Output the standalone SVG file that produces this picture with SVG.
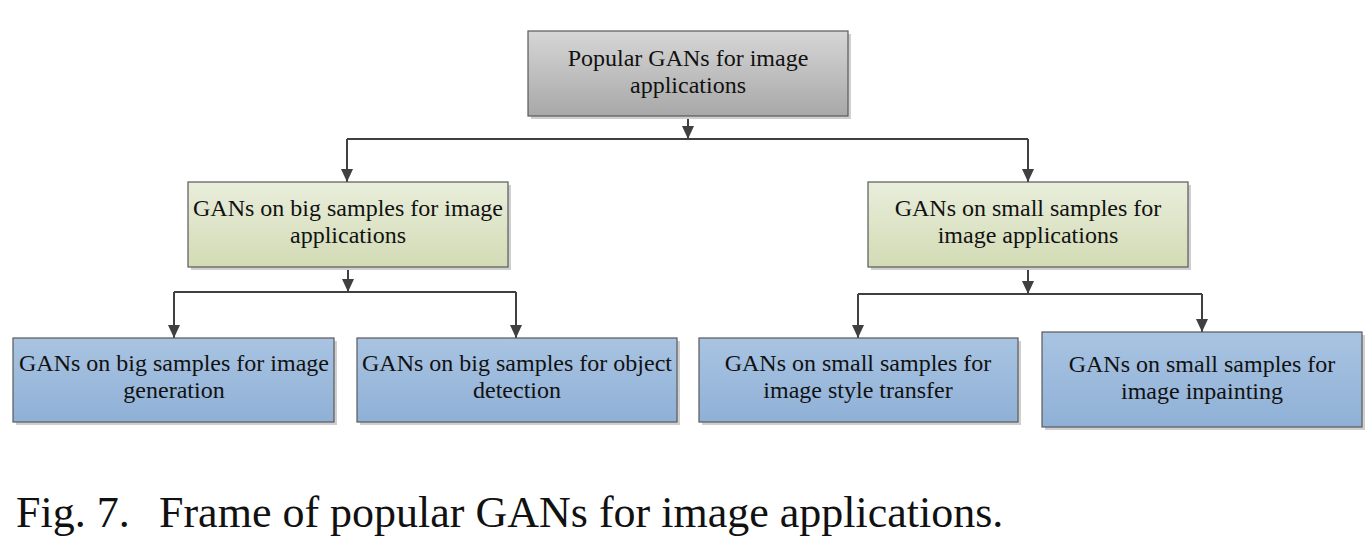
<svg xmlns="http://www.w3.org/2000/svg" width="1369" height="539" viewBox="0 0 1369 539">
<style>
  .box { stroke: #595959; stroke-width: 1.2; }
  .shadow { fill: #cfcfcf; }
  .conn { fill: none; stroke: #404040; stroke-width: 2; }
</style>
<defs>
  <linearGradient id="gGrey" x1="0" y1="0" x2="0" y2="1">
    <stop offset="0" stop-color="#d6d6d6"/>
    <stop offset="1" stop-color="#a8a8a8"/>
  </linearGradient>
  <linearGradient id="gGreen" x1="0" y1="0" x2="0" y2="1">
    <stop offset="0" stop-color="#e9eedb"/>
    <stop offset="1" stop-color="#d2dbb5"/>
  </linearGradient>
  <linearGradient id="gBlue" x1="0" y1="0" x2="0" y2="1">
    <stop offset="0" stop-color="#a9c4e2"/>
    <stop offset="1" stop-color="#8fb0d6"/>
  </linearGradient>
  <marker id="arr" markerUnits="userSpaceOnUse" markerWidth="13" markerHeight="13" viewBox="0 0 13 12" refX="13" refY="6" orient="auto">
    <path d="M0,0 L13,6 L0,12 z" fill="#404040"/>
  </marker>
</defs>
<rect width="1369" height="539" fill="#ffffff"/>

<g id="connectors">
  <path class="conn" d="M688,116 V139" marker-end="url(#arr)"/>
  <path class="conn" d="M347,139 H1028"/>
  <path class="conn" d="M347,139 V182" marker-end="url(#arr)"/>
  <path class="conn" d="M1028,139 V182" marker-end="url(#arr)"/>
  <path class="conn" d="M348,267 V292" marker-end="url(#arr)"/>
  <path class="conn" d="M174,292 H516"/>
  <path class="conn" d="M174,292 V338" marker-end="url(#arr)"/>
  <path class="conn" d="M516,292 V338" marker-end="url(#arr)"/>
  <path class="conn" d="M1028,267 V294" marker-end="url(#arr)"/>
  <path class="conn" d="M858,294 H1202"/>
  <path class="conn" d="M858,294 V338" marker-end="url(#arr)"/>
  <path class="conn" d="M1202,294 V332" marker-end="url(#arr)"/>
</g>

<g font-family="'Liberation Serif', 'Times New Roman', serif" font-size="24" fill="#111111" text-anchor="middle">
<g id="root">
  <rect class="shadow" x="531" y="34" width="320" height="85"/>
  <rect class="box" x="528" y="31" width="320" height="85" fill="url(#gGrey)"/>
  <text x="688" y="66">Popular GANs for image</text>
  <text x="688" y="93">applications</text>
</g>

<g id="big">
  <rect class="shadow" x="191" y="185" width="320" height="85"/>
  <rect class="box" x="188" y="182" width="320" height="85" fill="url(#gGreen)"/>
  <text x="348" y="216">GANs on big samples for image</text>
  <text x="348" y="243">applications</text>
</g>

<g id="small">
  <rect class="shadow" x="871" y="185" width="320" height="85"/>
  <rect class="box" x="868" y="182" width="320" height="85" fill="url(#gGreen)"/>
  <text x="1028" y="216">GANs on small samples for</text>
  <text x="1028" y="243">image applications</text>
</g>

<g id="big-generation">
  <rect class="shadow" x="16" y="341" width="321" height="84"/>
  <rect class="box" x="13" y="338" width="321" height="84" fill="url(#gBlue)"/>
  <text x="174" y="371">GANs on big samples for image</text>
  <text x="174" y="398">generation</text>
</g>

<g id="big-detection">
  <rect class="shadow" x="360" y="341" width="320" height="84"/>
  <rect class="box" x="357" y="338" width="320" height="84" fill="url(#gBlue)"/>
  <text x="517" y="371">GANs on big samples for object</text>
  <text x="517" y="398">detection</text>
</g>

<g id="small-style">
  <rect class="shadow" x="702" y="341" width="319" height="84"/>
  <rect class="box" x="699" y="338" width="319" height="84" fill="url(#gBlue)"/>
  <text x="858" y="371">GANs on small samples for</text>
  <text x="858" y="398">image style transfer</text>
</g>

<g id="small-inpainting">
  <rect class="shadow" x="1045" y="335" width="320" height="95"/>
  <rect class="box" x="1042" y="332" width="320" height="95" fill="url(#gBlue)"/>
  <text x="1202" y="372">GANs on small samples for</text>
  <text x="1202" y="399">image inpainting</text>
</g>
</g>

<text x="16" y="527" font-family="'Liberation Serif', 'Times New Roman', serif" font-size="44" fill="#111111">Fig. 7.<tspan x="159">Frame of popular GANs for image applications.</tspan></text>
</svg>
